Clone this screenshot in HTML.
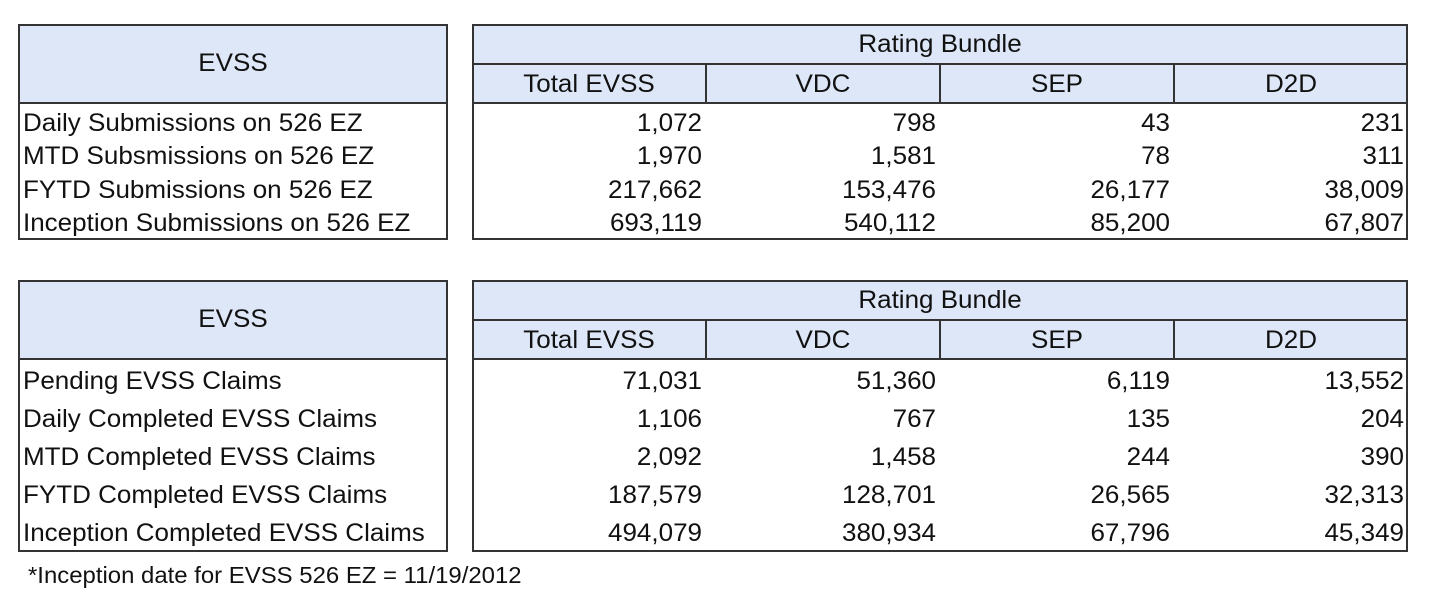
<!DOCTYPE html>
<html><head><meta charset="utf-8"><style>
body{margin:0;width:1452px;height:607px;background:#fff;font-family:"Liberation Sans",Arial,sans-serif;color:#111;position:relative;overflow:hidden}
.box{position:absolute;border:2px solid #333;box-sizing:border-box;background:transparent}
.hd{position:absolute;background:#dde7f7;box-sizing:border-box}
.t{position:absolute;font-size:25px;white-space:nowrap;line-height:1;transform:scaleX(1.04)}
.t.r{transform-origin:right center}
.t.c{transform-origin:center center}
.t.l{transform-origin:left center}
.c{text-align:center}
.r{text-align:right}
.ln{position:absolute;background:#333}
</style></head><body>
<div id="root"></div>
<script>
const root=document.getElementById('root');
const cols=["Total EVSS","VDC","SEP","D2D"];
const t1Rows=["Daily Submissions on 526 EZ","MTD Subsmissions on 526 EZ","FYTD Submissions on 526 EZ","Inception Submissions on 526 EZ"];
const t1Vals=[["1,072","798","43","231"],["1,970","1,581","78","311"],["217,662","153,476","26,177","38,009"],["693,119","540,112","85,200","67,807"]];
const t2Rows=["Pending EVSS Claims","Daily Completed EVSS Claims","MTD Completed EVSS Claims","FYTD Completed EVSS Claims","Inception Completed EVSS Claims"];
const t2Vals=[["71,031","51,360","6,119","13,552"],["1,106","767","135","204"],["2,092","1,458","244","390"],["187,579","128,701","26,565","32,313"],["494,079","380,934","67,796","45,349"]];
function el(cls,x,y,w,h,txt,name){const d=document.createElement('div');d.className=cls;d.style.left=x+'px';d.style.top=y+'px';if(w!=null)d.style.width=w+'px';if(h!=null)d.style.height=h+'px';if(txt!=null)d.textContent=txt;


root.appendChild(d);return d;}
function table(top,hdrBot,bot,rows,vals,rowH,k){
 el('hd',18,top,430,hdrBot-top,null,'evss-header-bg-'+k);
 el('hd',472,top,936,hdrBot-top,null,'rating-header-bg-'+k);
 el('box',18,top,430,bot-top,null,'evss-label-box-'+k);
 el('box',472,top,936,bot-top,null,'rating-bundle-box-'+k);
 el('ln',18,hdrBot-1,430,2,null,'header-divider-left-'+k);
 el('ln',472,hdrBot-1,936,2,null,'header-divider-right-'+k);
 const mid=top+40;
 el('ln',472,mid-1,936,2,null,'subheader-divider-'+k);
 for(let i=1;i<4;i++) el('ln',472+i*234-1,mid,2,hdrBot-mid,null,'column-divider-'+k);
 el('t c',18,(top+hdrBot)/2-13,430,null,'EVSS','evss-title-'+k);
 el('t c',472,top+8,936,null,'Rating Bundle','rating-bundle-title-'+k);
 cols.forEach((c,i)=>el('t c',472+i*234,mid+8,234,null,c,'column-header-'+k));
 rows.forEach((r,j)=>{
  const y=hdrBot+4+j*rowH+(rowH-26)/2;
  el('t l',23,y,420,null,r,'row-label-'+k);
  vals[j].forEach((v,i)=>el('t r',472+i*234,y,230,null,v,'cell-value-'+k));
 });
}
table(24,103,240,t1Rows,t1Vals,33.5,'submissions');
table(280,359,552,t2Rows,t2Vals,38,'claims');
const fn=el('t l',28,564,600,null,'*Inception date for EVSS 526 EZ = 11/19/2012','footnote');
fn.style.fontSize='23px';
</script>
</body></html>
